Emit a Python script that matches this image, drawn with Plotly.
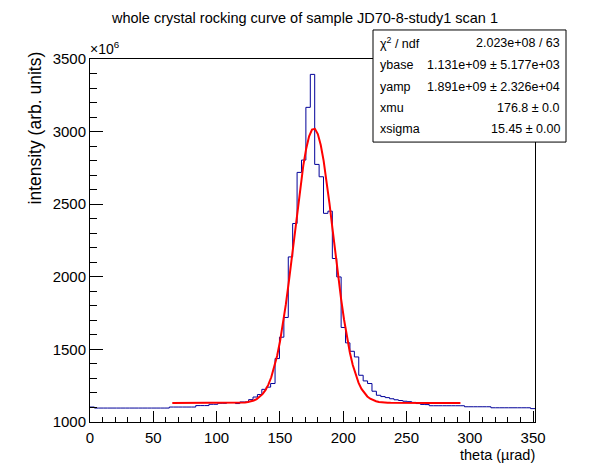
import numpy as np
import plotly.graph_objects as go

# histogram: uniform bins starting at theta_lo, values in units of 1e6
theta_lo = 0.0
bin_width = 3.48
intensity = [
    1103, 1096, 1096, 1096, 1096, 1096, 1096, 1096, 1096, 1096,
    1096, 1096, 1096, 1096, 1096, 1096, 1096, 1096, 1103, 1103,
    1103, 1103, 1103, 1103, 1113, 1113, 1113, 1122, 1122, 1129,
    1129, 1134, 1134, 1127, 1138, 1138, 1154, 1172, 1189, 1225,
    1240, 1265, 1437, 1584, 1720, 2137, 2367, 2719, 2804, 3167,
    3394, 2774, 2689, 2437, 2452, 2126, 1999, 1651, 1545, 1487,
    1448, 1322, 1283, 1265, 1212, 1184, 1175, 1168, 1160, 1153,
    1148, 1143, 1140, 1135, 1127, 1121, 1120, 1112, 1112, 1112,
    1112, 1112, 1112, 1112, 1112, 1105, 1105, 1105, 1105, 1105,
    1105, 1098, 1098, 1098, 1098, 1098, 1098, 1098, 1098, 1098,
    1092,
]

# fit result (gaussian on a flat base), as printed in the stats box
ybase = 1131.0
yamp = 1891.0
xmu = 176.8
xsigma = 15.45
fit_range = [65.0, 292.6]

stat_labels = ["χ<sup>2</sup> / ndf", "ybase", "yamp", "xmu", "xsigma"]
stat_values = ["2.023e+08 / 63", "1.131e+09 ± 5.177e+03", "1.891e+09 ± 2.326e+04",
               "176.8 ± 0.0", "15.45 ± 0.00"]

FONT = "Liberation Sans, Arial, Helvetica, sans-serif"

# frame in window pixels; the page puts the figure 8px in from the top-left
OFF = 8
W, H = 596 - OFF, 472 - OFF
L, R, T, B = 90, 535, 59, 421.7


def px_x(px):
    return (px - L) / (R - L)


def px_y(py):
    return (B - py) / (B - T)


edges = theta_lo + bin_width * np.arange(len(intensity) + 1)
steps_y = list(intensity) + [intensity[-1]]

xf = np.linspace(fit_range[0], fit_range[1], 100)
yf = ybase + yamp * np.exp(-0.5 * ((xf - xmu) / xsigma) ** 2)

fig = go.Figure()
fig.add_trace(go.Scatter(
    x=edges, y=steps_y, mode="lines", line_shape="hv",
    line=dict(color="#000099", width=1), showlegend=False, hoverinfo="skip",
))
fig.add_trace(go.Scatter(
    x=xf, y=yf, mode="lines",
    line=dict(color="#ff0000", width=2), showlegend=False, hoverinfo="skip",
))

axis_common = dict(
    showline=True, linecolor="black", linewidth=1, mirror=True,
    showgrid=False, zeroline=False, ticks="inside", tickcolor="black",
    tickfont=dict(family=FONT, size=15, color="black"),
)
fig.update_xaxes(range=[0, edges[-1]], tick0=0, dtick=50, ticklen=11,
                 ticklabelstandoff=2,
                 minor=dict(dtick=10, ticks="inside", ticklen=5, tickcolor="black"),
                 **axis_common)
fig.update_yaxes(range=[1000, 3500], tick0=1000, dtick=500, ticklen=13,
                 minor=dict(dtick=100, ticks="inside", ticklen=7, tickcolor="black"),
                 **axis_common)

ann = []
ann.append(dict(text="intensity (arb. units)", textangle=-90, x=px_x(35), y=px_y(50),
                xanchor="center", yanchor="top", font=dict(size=17.5)))
ann.append(dict(text="theta (µrad)", x=px_x(537), y=px_y(455),
                xanchor="right", yanchor="middle", font=dict(size=14.5)))
ann.append(dict(text="×10<sup>6</sup>", x=px_x(88), y=px_y(48),
                xanchor="left", yanchor="middle", font=dict(size=14)))

row_y = [43, 65, 87, 108, 129]
for lab, val, ry in zip(stat_labels, stat_values, row_y):
    ann.append(dict(text=lab, x=px_x(378), y=px_y(ry), xanchor="left",
                    yanchor="middle", font=dict(size=12.5)))
    ann.append(dict(text=val, x=px_x(562), y=px_y(ry), xanchor="right",
                    yanchor="middle", font=dict(size=12.5)))
for a in ann:
    a.update(xref="paper", yref="paper", showarrow=False)
    a["font"].update(family=FONT, color="black")

fig.add_shape(type="rect", xref="paper", yref="paper",
              x0=px_x(373), x1=px_x(566), y0=px_y(142), y1=px_y(30),
              line=dict(color="black", width=1), fillcolor="white", layer="above")

fig.update_layout(
    width=W, height=H,
    margin=dict(l=L - OFF, r=W + OFF - R, t=T - OFF, b=H + OFF - B),
    paper_bgcolor="white", plot_bgcolor="white",
    title=dict(text="whole crystal rocking curve of sample JD70-8-study1 scan 1",
               x=(305 - OFF) / W, xanchor="center", y=1 - (18 - OFF) / H, yanchor="middle",
               font=dict(family=FONT, size=14.5, color="black")),
    annotations=ann,
    showlegend=False,
)

fig.write_html("out.html")
